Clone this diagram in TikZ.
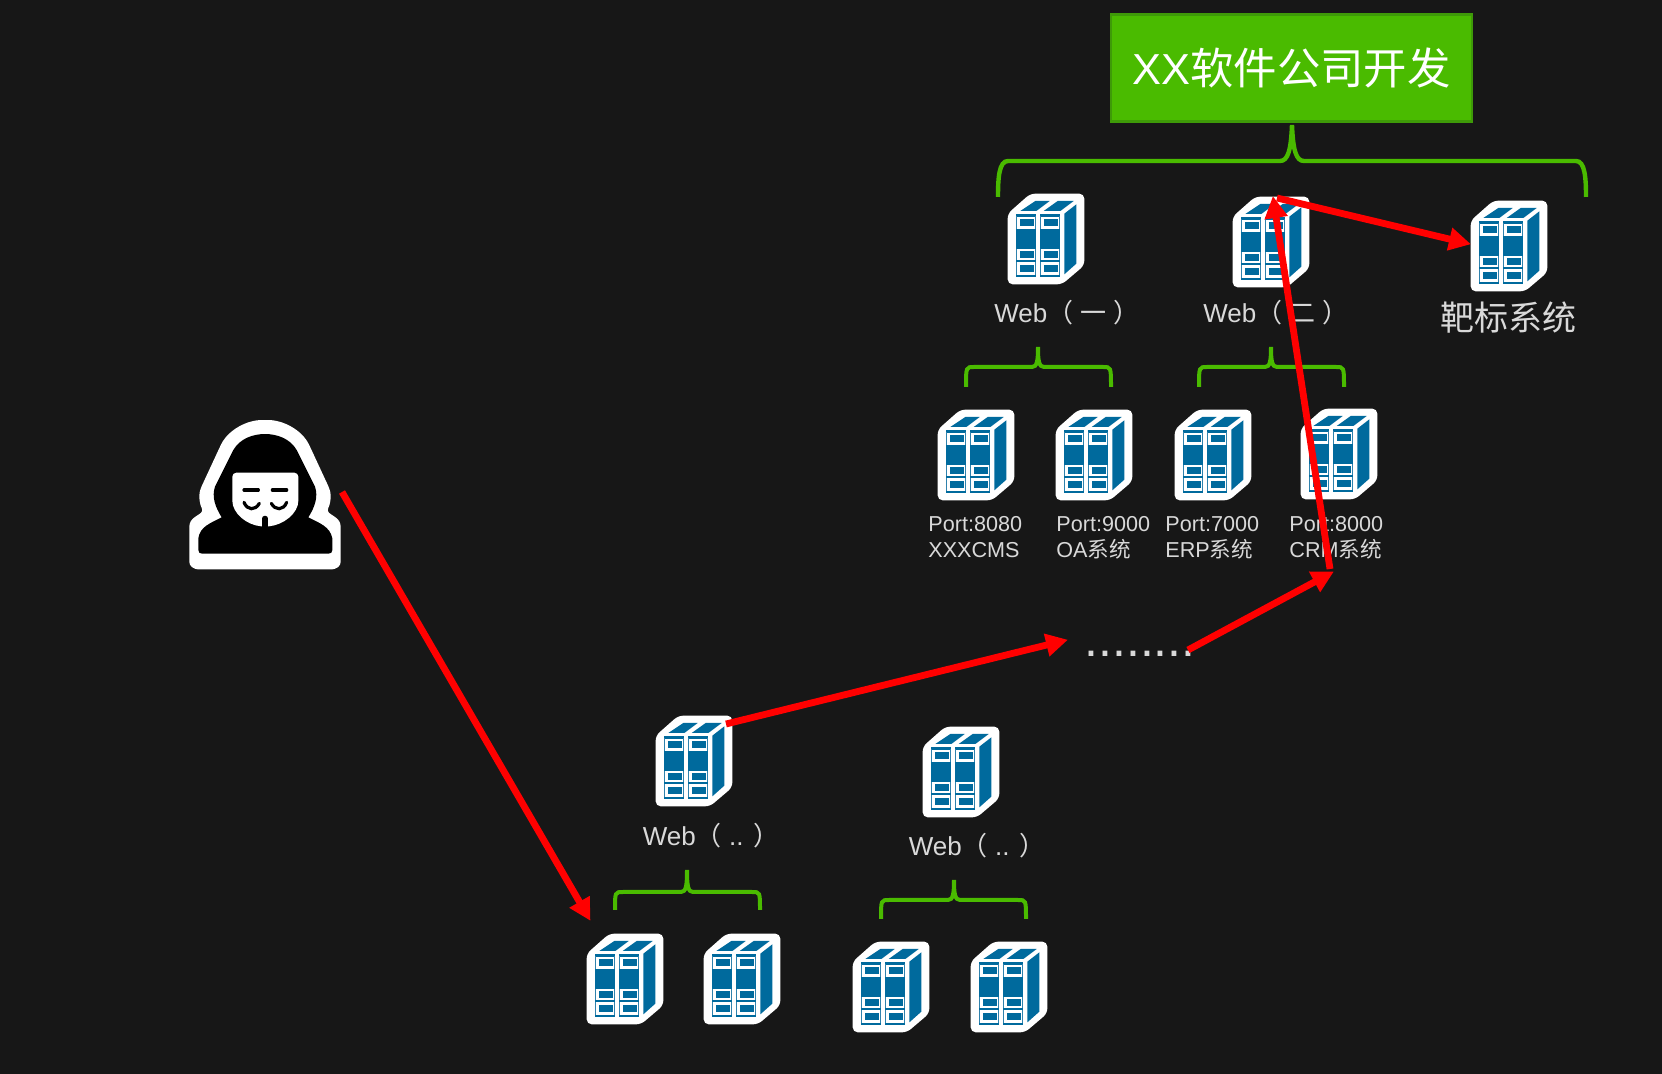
\documentclass[tikz,border=0pt]{standalone}
\usepackage{fontspec}
\setmainfont{Liberation Sans}
\newfontfamily\cjk{Noto Sans CJK SC}
\usetikzlibrary{arrows.meta}
\definecolor{bgc}{HTML}{171717}
\definecolor{srvblue}{HTML}{006A9D}
\definecolor{srvthin}{HTML}{2F82AD}
\definecolor{grn}{HTML}{4ABB00}
\definecolor{grnd}{HTML}{3E9A08}
\definecolor{lbl}{HTML}{D9D9D9}
\tikzset{
  x=0.5pt,y=-0.5pt,
  bracket/.style={draw=grn,line width=2.2pt,line cap=butt},
  attack/.style={draw=red,line width=3.4pt,-{Triangle[length=11pt,width=11pt]},shorten >=-0.5pt},
  weblabel/.style={text=lbl,inner sep=0pt,font=\fontsize{13}{15}\selectfont},
  portlabel/.style={text=lbl,inner sep=0pt,anchor=base west,align=left,font=\fontsize{10.8}{13}\selectfont},
  server/.pic={
    \node[minimum width=38.5pt,minimum height=45.5pt,inner sep=0pt] (-b) at (38.5,45.5) {};
    \begin{scope}[x=0.16667pt,y=-0.16667pt,shift={(-80,-38)}]
      \fill[white,rounded corners=2.5pt] (82,100) -- (150,40) -- (312,40) -- (312,255) -- (245,312) -- (82,312) -- cycle;
      \fill[srvblue] (120,92) -- (165,62) -- (208,62) -- (168,92) -- cycle;
      \fill[srvblue] (190,92) -- (232,62) -- (280,62) -- (240,92) -- cycle;
      \fill[srvblue] (252,100) -- (288,72) -- (288,250) -- (252,282) -- cycle;
      \foreach \cx in {106,178}{
        \begin{scope}[shift={(\cx,0)}]
          \fill[srvblue] (0,100) rectangle (62,109);
          \fill[srvblue] (0,146) rectangle (62,206);
          \fill[srvblue] (0,238) rectangle (62,245);
          \fill[srvblue] (0,284) rectangle (62,290);
          \fill[srvblue] (13,117) rectangle (55,136);
          \fill[srvblue] (13,213) rectangle (55,233);
          \fill[srvblue] (13,255) rectangle (55,274);
          \draw[srvthin,line width=0.5pt] (2,108) -- (2,146) (60,108) -- (60,146);
          \draw[srvthin,line width=0.5pt] (2,205) -- (2,238) (60,205) -- (60,238);
          \draw[srvthin,line width=0.5pt] (2,244) -- (2,285) (60,244) -- (60,285);
        \end{scope}
      }
    \end{scope}
  }
}
\begin{document}
\begin{tikzpicture}
\useasboundingbox (0,0) rectangle (1662,1074);
\fill[bgc] (0,0) rectangle (1662,1074);

% title
\node[draw=grnd,fill=grn,line width=1.2pt,minimum width=180.5pt,minimum height=53.5pt,inner sep=0pt,text=white,font=\fontsize{21.7}{24}\selectfont] (title) at (1291.5,68) {XX{\cjk 软件公司开发}};

% brackets
\draw[bracket] (998,197) .. controls (998,178) and (999,161) .. (1008,161) -- (1280,161) .. controls (1288,161) and (1291,150) .. (1292,125) .. controls (1293,150) and (1296,161) .. (1304,161) -- (1576,161) .. controls (1585,161) and (1586,178) .. (1586,197);
\foreach \l/\m/\r/\t/\h/\e in {966/1038/1111/347/367/387, 1199/1271/1344/347/367/387, 615/687/760/870/892/910, 881/954/1026/880/900/919}{
  \draw[bracket,line width=2pt] (\l,\e) .. controls (\l,\h) and (\l,\h) .. (\l+8,\h) -- (\m-6,\h) .. controls (\m-1,\h) and (\m,\h-6) .. (\m,\t) .. controls (\m,\h-6) and (\m+1,\h) .. (\m+6,\h) -- (\r-8,\h) .. controls (\r,\h) and (\r,\h) .. (\r,\e);
}

% servers
\pic (web1) at (1007,193) {server};
\pic (web2) at (1232,196) {server};
\pic (target) at (1470,200) {server};
\pic (p1) at (937,409) {server};
\pic (p2) at (1055,409) {server};
\pic (p3) at (1174,409) {server};
\pic (p4) at (1300,408) {server};
\pic (weba) at (655,715) {server};
\pic (webb) at (922,726) {server};
\pic (b1) at (586,933) {server};
\pic (b2) at (703,933) {server};
\pic (b3) at (852,941) {server};
\pic (b4) at (970,941) {server};

% labels
\node[weblabel] (lweb1) at (1067,313) {Web{\cjk （} {\cjk 一} {\cjk ）}};
\node[weblabel] (lweb2) at (1276,313) {Web{\cjk （} {\cjk 二} {\cjk ）}};
\node[text=lbl,inner sep=0pt,font=\fontsize{17}{20}\cjk\selectfont] (ltarget) at (1508,318) {靶标系统};
\node[portlabel] (lp1) at (928,558) {Port:8080\\XXXCMS};
\node[portlabel] (lp2) at (1056,558) {Port:9000\\OA{\cjk 系统}};
\node[portlabel] (lp3) at (1165,558) {Port:7000\\ERP{\cjk 系统}};
\node[portlabel] (lp4) at (1289,558) {Port:8000\\CRM{\cjk 系统}};
\node[weblabel] (lweba) at (711,836) {Web{\cjk （} .. {\cjk ）}};
\node[weblabel] (lwebb) at (977,846) {Web{\cjk （} .. {\cjk ）}};
\node[text=lbl,inner sep=0pt,anchor=base,font=\fontsize{25}{30}\selectfont] (dots) at (1140,657) {........};

% hacker
\node[minimum width=76pt,minimum height=75pt,inner sep=0pt] (hacker) at (265,494) {};
\begin{scope}[x=0.16667pt,y=-0.16667pt,shift={(510,1230)}]
  \fill[white,rounded corners=1.5pt] (58,465) -- (58,340) .. controls (70,322) and (85,315) .. (100,303) .. controls (90,285) and (85,260) .. (92,235) -- (150,110) .. controls (175,60) and (230,30) .. (285,30) .. controls (340,30) and (395,60) .. (420,110) -- (478,235) .. controls (485,260) and (480,285) .. (470,303) .. controls (485,315) and (500,322) .. (512,340) -- (512,465) -- (495,478) -- (75,478) -- cycle;
  \fill[black] (85,385) .. controls (90,350) and (120,340) .. (155,322) .. controls (135,290) and (125,260) .. (135,230) -- (190,120) .. controls (210,85) and (250,72) .. (285,72) .. controls (320,72) and (360,85) .. (380,120) -- (435,230) .. controls (445,260) and (435,290) .. (415,322) .. controls (450,340) and (480,350) .. (487,385) -- (487,420) .. controls (487,428) and (482,431) .. (475,431) -- (97,431) .. controls (90,431) and (85,428) .. (85,420) -- cycle;
  \fill[white,rounded corners=2pt] (187,188) -- (385,188) -- (385,260) .. controls (385,310) and (340,345) .. (285,350) .. controls (230,345) and (187,310) .. (187,260) -- cycle;
  \draw[black,line width=1.6pt,line cap=round] (222,240) -- (265,240) (307,240) -- (350,240);
  \draw[black,line width=1.6pt,line cap=round] (222,277) .. controls (232,302) and (256,302) .. (268,280);
  \draw[black,line width=1.6pt,line cap=round] (304,280) .. controls (316,302) and (340,302) .. (350,277);
  \draw[black,line width=2.6pt,line cap=round] (285,325) -- (285,350);
\end{scope}

% attack path
\coordinate (a1s) at (342,492);
\coordinate (a1e) at (590,920);
\coordinate (a2s) at (726,724);
\coordinate (a2e) at (1067,640);
\coordinate (a3s) at (1188,650);
\coordinate (a3e) at (1333,572);
\coordinate (a4s) at (1330,569);
\coordinate (a4e) at (1273,197);
\coordinate (a5s) at (1277,198);
\coordinate (a5e) at (1470,244);
\draw[attack] (a1s) -- (a1e);
\draw[attack] (a2s) -- (a2e);
\draw[attack] (a3s) -- (a3e);
\draw[attack] (a4s) -- (a4e);
\draw[attack] (a5s) -- (a5e);
\end{tikzpicture}
\end{document}
